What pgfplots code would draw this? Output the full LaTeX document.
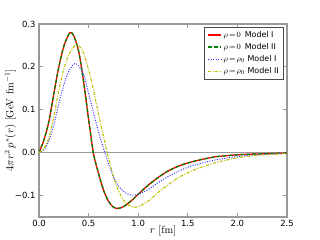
\documentclass[border=0pt]{standalone}
\usepackage{pgfplots}
\pgfplotsset{compat=1.18}
\usepackage{pgfplotstable}
\usepackage{fontspec}
\newfontfamily\dejavu{DejaVu Sans}
\definecolor{myyellow}{rgb}{0.75,0.75,0}
\definecolor{mygreen}{rgb}{0,0.5,0}
\definecolor{myblue}{rgb}{0.2,0.2,1}
\definecolor{framegray}{gray}{0.6}

\pgfplotstableread{
r v
0 0
0.05 0.030
0.1 0.073
0.15 0.138
0.2 0.200
0.25 0.248
0.3 0.276
0.32 0.280
0.35 0.273
0.4 0.236
0.45 0.165
0.5 0.078
0.55 -0.003
0.6 -0.048
0.65 -0.087
0.7 -0.113
0.75 -0.127
0.8 -0.130
0.85 -0.126
0.9 -0.118
0.95 -0.108
1.0 -0.097
1.1 -0.076
1.2 -0.058
1.3 -0.043
1.4 -0.032
1.5 -0.024
1.6 -0.018
1.7 -0.013
1.8 -0.009
2.0 -0.005
2.2 -0.003
2.5 -0.001
}\redtab

\pgfplotstableread{
r v
0 0
0.05 0.030
0.1 0.073
0.15 0.138
0.2 0.200
0.25 0.248
0.3 0.276
0.32 0.280
0.35 0.273
0.4 0.236
0.45 0.165
0.5 0.078
0.55 -0.003
0.6 -0.048
0.65 -0.087
0.7 -0.113
0.75 -0.127
0.8 -0.130
0.85 -0.126
0.9 -0.118
0.95 -0.108
1.0 -0.097
1.1 -0.076
1.2 -0.058
1.3 -0.043
1.4 -0.032
1.5 -0.024
1.6 -0.018
1.7 -0.013
1.8 -0.009
2.0 -0.005
2.2 -0.003
2.5 -0.001
}\greentab

\pgfplotstableread{
r v
0 0
0.05 0.007
0.1 0.028
0.15 0.065
0.2 0.115
0.25 0.158
0.3 0.190
0.35 0.207
0.37 0.208
0.4 0.202
0.45 0.182
0.5 0.138
0.55 0.093
0.6 0.048
0.65 0.010
0.7 -0.025
0.75 -0.056
0.8 -0.077
0.85 -0.090
0.9 -0.097
0.95 -0.099
1.0 -0.097
1.1 -0.086
1.2 -0.070
1.3 -0.056
1.4 -0.044
1.5 -0.034
1.6 -0.027
1.7 -0.021
1.8 -0.016
2.0 -0.009
2.2 -0.005
2.5 -0.001
}\bluetab

\pgfplotstableread{
r v
0 0
0.05 0.010
0.1 0.035
0.15 0.085
0.2 0.145
0.25 0.195
0.3 0.228
0.35 0.247
0.38 0.251
0.42 0.245
0.45 0.232
0.5 0.194
0.55 0.145
0.6 0.090
0.65 0.038
0.7 -0.012
0.75 -0.055
0.8 -0.088
0.85 -0.110
0.9 -0.122
0.95 -0.127
1.0 -0.126
1.1 -0.113
1.2 -0.093
1.3 -0.075
1.4 -0.059
1.5 -0.047
1.6 -0.037
1.7 -0.029
1.8 -0.022
2.0 -0.012
2.2 -0.006
2.5 -0.002
}\yellowtab

\begin{document}
\begin{tikzpicture}
\begin{axis}[
  scale only axis, width=248bp, height=193bp,
  xmin=0, xmax=2.5, ymin=-0.15, ymax=0.3,
  xtick={0,0.5,1,1.5,2,2.5}, xticklabels={0.0,0.5,1.0,1.5,2.0,2.5},
  ytick={-0.1,0,0.1,0.2,0.3}, yticklabels={−0.1,0.0,0.1,0.2,0.3},
  tick align=inside, major tick length=4bp,
  tick style={framegray, line width=0.8bp},
  axis line style={framegray, line width=1.2bp},
  tick label style={font=\dejavu\fontsize{8.5}{10}\selectfont},
  label style={font=\fontsize{10.5}{12}\selectfont},
  xlabel={$r$ [fm]},
  ylabel={$4\pi r^2\,p^*(r)$ [GeV fm$^{-1}$]},
  xlabel style={at={(axis description cs:0.5,-0.072)}, anchor=center},
  ylabel style={at={(axis description cs:-0.115,0.5)}, anchor=center},
  legend style={font=\dejavu\fontsize{8}{9.5}\selectfont, at={(0.988,0.985)}, anchor=north east,
    draw=black!70, line width=0.6bp, inner xsep=3bp, inner ysep=2bp, row sep=0.5bp},
  legend cell align=left,
  legend image code/.code={\draw[#1] (0bp,0bp) -- (13bp,0bp);},
]
\addplot[framegray, line width=1.2bp, forget plot] coordinates {(0,0) (2.5,0)};
\addplot[red, line width=1.3bp, smooth, tension=0.5] table[x=r,y=v] {\redtab};
\addlegendentry{$\rho\!=\!0$\enspace Model I}
\addplot[mygreen, line width=1.3bp, dash pattern=on 3.5bp off 2.5bp, smooth, tension=0.5] table[x=r,y=v] {\greentab};
\addlegendentry{$\rho\!=\!0$\enspace Model II}
\addplot[myblue, line width=1bp, dash pattern=on 1bp off 1.5bp, smooth, tension=0.5] table[x=r,y=v] {\bluetab};
\addlegendentry{$\rho\!=\!\rho_0$ Model I}
\addplot[myyellow, line width=1.1bp, dash pattern=on 3bp off 1.5bp on 1bp off 1.5bp, smooth, tension=0.5] table[x=r,y=v] {\yellowtab};
\addlegendentry{$\rho\!=\!\rho_0$ Model II}
\end{axis}
\pgfresetboundingbox
\path ([shift={(-39bp,-23bp)}]current axis.south west) rectangle ([shift={(33bp,24bp)}]current axis.north east);
\end{tikzpicture}
\end{document}
